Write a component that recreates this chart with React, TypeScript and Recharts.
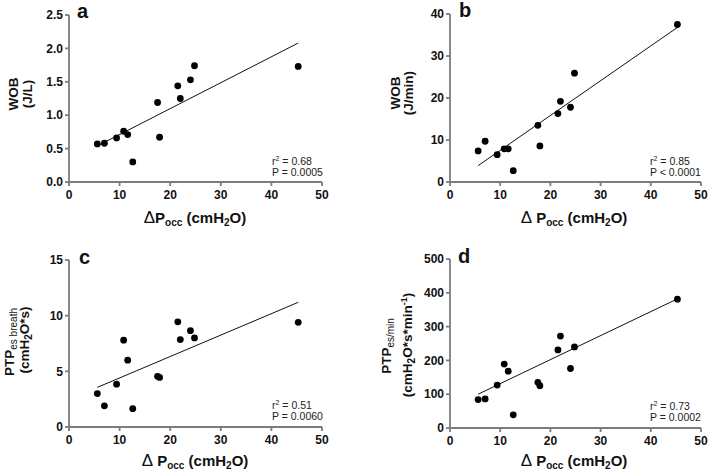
import React from "react";
import { ScatterChart, Scatter, XAxis, YAxis, ReferenceLine } from "recharts";

// ΔPocc (cmH2O), same subjects in every panel
const pOcc = [5.6, 7.0, 9.4, 10.8, 11.6, 12.6, 17.5, 17.9, 21.5, 22.0, 24.0, 24.8, 45.3];
const wobPerL = [0.57, 0.58, 0.66, 0.76, 0.71, 0.3, 1.19, 0.67, 1.44, 1.25, 1.53, 1.74, 1.73];
const wobPerMin = [7.4, 9.7, 6.5, 7.9, 7.9, 2.7, 13.5, 8.6, 16.3, 19.2, 17.8, 25.9, 37.5];
const ptpBreath = [3.0, 1.9, 3.85, 7.8, 6.0, 1.65, 4.55, 4.45, 9.45, 7.85, 8.65, 8.0, 9.4];
const ptpMin = [84, 86, 127, 189, 168, 39, 135, 125, 231, 272, 176, 240, 381];

// regression line end points
const fitA = [{ x: 5.6, y: 0.54 }, { x: 45.3, y: 2.08 }];
const fitB = [{ x: 5.6, y: 3.9 }, { x: 45.3, y: 36.8 }];
const fitC = [{ x: 5.6, y: 3.56 }, { x: 45.3, y: 11.2 }];
const fitD = [{ x: 5.6, y: 100 }, { x: 45.3, y: 382 }];

const xTicks = [0, 10, 20, 30, 40, 50];
const ticksA = [0, 0.5, 1, 1.5, 2, 2.5];
const ticksB = [0, 10, 20, 30, 40];
const ticksC = [0, 5, 10, 15];
const ticksD = [0, 100, 200, 300, 400, 500];

const FONT = "'Liberation Sans', Arial, sans-serif";
const AXIS = "#7c7c7c";

const toPoints = (ys: number[]) => pOcc.map((x, i) => ({ x, y: ys[i] }));

const Dot = (props: any) => <circle cx={props.cx} cy={props.cy} r={3.4} fill="#000" />;

interface PanelProps {
  left: number;
  top: number;
  width: number;
  height: number;
  plotLeft: number;
  plotTop: number;
  right: number;
  bottom: number;
  values: number[];
  fit: { x: number; y: number }[];
  yTicks: number[];
  decimals: number;
}

function Panel(p: PanelProps) {
  const tick = { fill: "#111", fontSize: 12, fontWeight: 700, fontFamily: FONT };
  return (
    <div style={{ position: "absolute", left: p.left, top: p.top }}>
      <ScatterChart
        width={p.width}
        height={p.height}
        margin={{ top: p.plotTop, right: p.right, bottom: 0, left: 0 }}
      >
        <XAxis
          type="number"
          dataKey="x"
          domain={[0, 50]}
          ticks={xTicks}
          height={p.bottom}
          stroke={AXIS}
          strokeWidth={1.8}
          tickSize={4}
          tickMargin={4}
          tick={tick}
        />
        <YAxis
          type="number"
          dataKey="y"
          domain={[p.yTicks[0], p.yTicks[p.yTicks.length - 1]]}
          ticks={p.yTicks}
          width={p.plotLeft}
          stroke={AXIS}
          strokeWidth={1.8}
          tickSize={4}
          tickMargin={2}
          tick={tick}
          tickFormatter={(v: number) => v.toFixed(p.decimals)}
        />
        <ReferenceLine segment={p.fit} stroke="#111" strokeWidth={1} ifOverflow="visible" />
        <Scatter data={toPoints(p.values)} shape={Dot} isAnimationActive={false} />
      </ScatterChart>
    </div>
  );
}

function XLabel({ x, y, gap }: { x: number; y: number; gap: boolean }) {
  return (
    <text x={x} y={y} textAnchor="middle" fontFamily={FONT} fontSize={15} fontWeight={700} fill="#111">
      <tspan fontWeight={400} fontSize={17}>Δ</tspan>
      {gap ? " " : ""}P
      <tspan fontSize={10} dy={3}>occ</tspan>
      <tspan dy={-3}> (cmH</tspan>
      <tspan fontSize={10} dy={3}>2</tspan>
      <tspan dy={-3}>O)</tspan>
    </text>
  );
}

function Stats({ x, y, r2, p }: { x: number; y: number; r2: string; p: string }) {
  return (
    <g fontFamily={FONT} fontSize={10.5} fill="#222">
      <text x={x} y={y}>
        r<tspan fontSize={7} dy={-4}>2</tspan>
        <tspan dy={4}> = {r2}</tspan>
      </text>
      <text x={x} y={y + 11}>{p}</text>
    </g>
  );
}

function VText({ x, y, children }: { x: number; y: number; children: React.ReactNode }) {
  return (
    <text
      x={x}
      y={y}
      transform={`rotate(-90 ${x} ${y})`}
      textAnchor="middle"
      fontFamily={FONT}
      fontSize={13.5}
      fontWeight={700}
      fill="#111"
    >
      {children}
    </text>
  );
}

export default function App() {
  return (
    <div style={{ position: "absolute", left: 0, top: 0, width: 709, height: 473, background: "#fff" }}>
      <Panel left={0} top={0} width={354} height={236} plotLeft={69} plotTop={15} right={32} bottom={54}
        values={wobPerL} fit={fitA} yTicks={ticksA} decimals={1} />
      <Panel left={354} top={0} width={355} height={236} plotLeft={96} plotTop={14} right={8} bottom={54}
        values={wobPerMin} fit={fitB} yTicks={ticksB} decimals={0} />
      <Panel left={0} top={236} width={354} height={237} plotLeft={69} plotTop={24} right={32} bottom={46}
        values={ptpBreath} fit={fitC} yTicks={ticksC} decimals={0} />
      <Panel left={354} top={236} width={355} height={237} plotLeft={96} plotTop={23} right={8} bottom={45}
        values={ptpMin} fit={fitD} yTicks={ticksD} decimals={0} />

      <svg width={709} height={473} style={{ position: "absolute", left: 0, top: 0, pointerEvents: "none" }}>
        <g fontFamily={FONT} fontSize={20} fontWeight={700} fill="#111">
          <text x={77} y={18}>a</text>
          <text x={459} y={17}>b</text>
          <text x={79} y={264}>c</text>
          <text x={458} y={263}>d</text>
        </g>

        <XLabel x={195} y={222.5} gap={false} />
        <XLabel x={574} y={222.5} gap={true} />
        <XLabel x={195} y={466} gap={true} />
        <XLabel x={574} y={466} gap={true} />

        <VText x={18} y={94}>WOB</VText>
        <VText x={32} y={94}>(J/L)</VText>
        <VText x={400} y={93}>WOB</VText>
        <VText x={413} y={93}>(J/min)</VText>

        <VText x={14} y={342}>
          PTP<tspan fontSize={10} fontWeight={400} dy={3}>es breath</tspan>
        </VText>
        <VText x={29} y={340}>
          (cmH<tspan fontSize={10} dy={3}>2</tspan>
          <tspan dy={-3}>O*s)</tspan>
        </VText>
        <VText x={391} y={346}>
          PTP<tspan fontSize={10} fontWeight={400} dy={3}>es/min</tspan>
        </VText>
        <VText x={412} y={345}>
          (cmH<tspan fontSize={10} dy={3}>2</tspan>
          <tspan dy={-3}>O*s*min</tspan>
          <tspan fontSize={9} dy={-5}>-1</tspan>
          <tspan dy={5}>)</tspan>
        </VText>

        <Stats x={272} y={165} r2="0.68" p="P = 0.0005" />
        <Stats x={650} y={165} r2="0.85" p="P < 0.0001" />
        <Stats x={272} y={409} r2="0.51" p="P = 0.0060" />
        <Stats x={650} y={410} r2="0.73" p="P = 0.0002" />
      </svg>
    </div>
  );
}
